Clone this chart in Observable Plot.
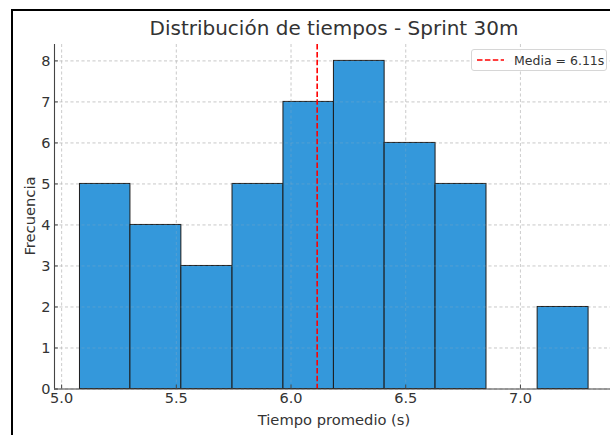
<!DOCTYPE html>
<html>
<head>
<meta charset="utf-8">
<script src="https://cdn.jsdelivr.net/npm/d3@7"></script>
<script src="https://cdn.jsdelivr.net/npm/@observablehq/plot@0.6"></script>
<style>
  html, body { margin: 0; padding: 0; background: #fff; }
  #page { position: relative; width: 610px; height: 435px; overflow: hidden; background: #fff; font-family: "DejaVu Sans", sans-serif; }
  #doc { position: absolute; left: -92px; top: -25.5px; font-family: "Liberation Serif", serif; font-style: italic; font-size: 22px; color: #111; white-space: nowrap; }
  #frame { position: absolute; left: 11px; top: 9px; width: 700px; height: 500px; border: 2px solid #000; box-sizing: border-box; }
  #chart { position: absolute; left: 0; top: 0; width: 640px; height: 435px; }
  #chart svg { max-width: none !important; }
  #title { position: absolute; left: 0; width: 668px; top: 16px; text-align: center; font-size: 20px; color: #333; white-space: nowrap; }
  #xlabel { position: absolute; left: 0; width: 668px; top: 410.5px; text-align: center; font-size: 14.7px; color: #333; white-space: nowrap; }
  #ylabel { position: absolute; left: 28.5px; top: 216px; transform: translate(-50%, -50%) rotate(-90deg); font-size: 14.7px; color: #333; white-space: nowrap; }
  #legend { position: absolute; left: 471px; top: 49px; width: 136px; height: 22px; box-sizing: border-box; border: 1px solid #d6d6d6; border-radius: 3px; background: rgba(255,255,255,0.85); font-size: 12.5px; color: #333; display: flex; align-items: center; }
  #legend svg { margin-left: 5px; margin-right: 10px; }
</style>
</head>
<body>
<div id="page">
  <div id="doc">Distribución de tiempos - Test Sprint 30 mts</div>
  <div id="frame"></div>
  <div id="chart"></div>
  <div id="title"></div>
  <div id="xlabel"></div>
  <div id="ylabel"></div>
  <div id="legend"></div>
</div>
<script>
// ---- Data ----
const binEdges = [5.080, 5.300, 5.522, 5.745, 5.967, 6.187, 6.408, 6.630, 6.852, 7.075, 7.297];
const counts = [5, 4, 3, 5, 7, 8, 6, 5, 0, 2];
const meanValue = 6.114;
const xTicks = [5.0, 5.5, 6.0, 6.5, 7.0];
const yTicks = [0, 1, 2, 3, 4, 5, 6, 7, 8];
const titleText = "Distribución de tiempos - Sprint 30m";
const xLabelText = "Tiempo promedio (s)";
const yLabelText = "Frecuencia";
const xDomain = [4.969, 7.41];
const yDomain = [0, 8.4];

const bins = counts.map((c, i) => ({x1: binEdges[i], x2: binEdges[i + 1], count: c})).filter(d => d.count > 0);

const gridStyle = {stroke: "#b8b8b8", strokeOpacity: 0.75, strokeDasharray: "3,2.5", strokeWidth: 0.8};

const chart = Plot.plot({
  width: 640,
  height: 435,
  marginLeft: 54,
  marginRight: 26,
  marginTop: 44,
  marginBottom: 46.5,
  style: {fontFamily: "DejaVu Sans, sans-serif", fontSize: "14.5px", color: "#333", background: "transparent", overflow: "visible", maxWidth: "none"},
  x: {domain: xDomain},
  y: {domain: yDomain},
  marks: [
    Plot.gridX(xTicks, gridStyle),
    Plot.gridY(yTicks, gridStyle),
    Plot.rectY(bins, {x1: "x1", x2: "x2", y: "count", fill: "#3498db", stroke: "#1c1c1c", strokeWidth: 1}),
    Plot.gridX(xTicks, {...gridStyle, strokeOpacity: 0.3}),
    Plot.gridY(yTicks, {...gridStyle, strokeOpacity: 0.3}),
    Plot.ruleX([meanValue], {stroke: "#ff0000", strokeWidth: 1.6, strokeDasharray: "5.5,2.4"}),
    Plot.ruleX([xDomain[0]], {stroke: "#444", strokeWidth: 1.1}),
    Plot.ruleY([yDomain[0]], {stroke: "#444", strokeWidth: 1.1}),
    Plot.axisX(xTicks, {tickSize: -4, tickPadding: 8, tickFormat: d => d.toFixed(1), label: null, stroke: "#444", fill: "#333"}),
    Plot.axisY(yTicks, {tickSize: -4, tickPadding: 8, tickFormat: d => String(d), label: null, stroke: "#444", fill: "#333"})
  ]
});
document.getElementById("chart").appendChild(chart);
document.getElementById("title").textContent = titleText;
document.getElementById("xlabel").textContent = xLabelText;
document.getElementById("ylabel").textContent = yLabelText;
document.getElementById("legend").innerHTML =
  '<svg width="27" height="6"><line x1="0" y1="3" x2="27" y2="3" stroke="#ff0000" stroke-width="1.6" stroke-dasharray="5.5,2.4"/></svg>' +
  '<span>Media = ' + meanValue.toFixed(2) + 's</span>';
</script>
</body>
</html>
